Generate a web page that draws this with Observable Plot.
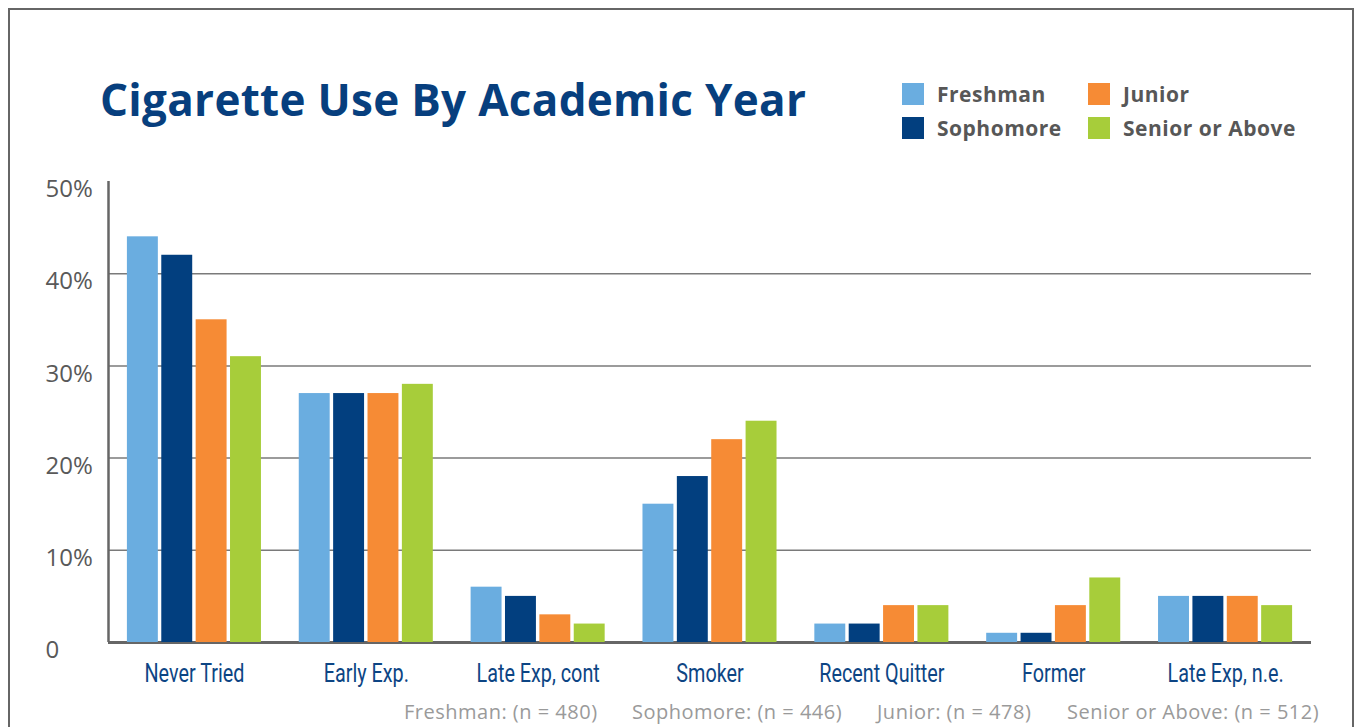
<!DOCTYPE html>
<html>
<head>
<meta charset="utf-8">
<script src="https://cdn.jsdelivr.net/npm/d3@7"></script>
<script src="https://cdn.jsdelivr.net/npm/@observablehq/plot@0.6"></script>
<style>
  html, body { margin: 0; padding: 0; background: #fff; }
  #page { position: relative; width: 1354px; height: 727px; overflow: hidden; background: #fff; }
  #frame { position: absolute; left: 8px; top: 8px; width: 1346px; height: 800px; border: 2.5px solid #666; border-bottom: none; box-sizing: border-box; }
  .layer { position: absolute; left: 0; top: 0; }
  #title { position: absolute; left: 100px; top: 77px; font-family: "Open Sans", sans-serif; font-weight: 700; font-size: 44px; letter-spacing: 0.3px; line-height: 1; color: #073f7e; white-space: nowrap; }
  .lg { position: absolute; display: flex; align-items: center; font-family: "Open Sans", sans-serif; font-weight: 700; font-size: 21px; letter-spacing: 0.5px; color: #575757; white-space: nowrap; line-height: 1; }
  .sw { width: 22px; height: 22px; margin-right: 13px; flex: none; }
  .fn { position: absolute; top: 702px; font-family: "Open Sans", sans-serif; font-weight: 400; font-size: 20px; letter-spacing: 0.5px; color: #9a9a9a; white-space: nowrap; line-height: 1; }
</style>
</head>
<body>
<div id="page">
  <div id="frame"></div>
  <div id="bg" class="layer"></div>
  <div id="fg" class="layer"></div>
  <div id="title"></div>
  <div id="legend"></div>
  <div id="foot"></div>
</div>
<script>
// ---- data ----
const titleText = "Cigarette Use By Academic Year";
const categories = ["Never Tried", "Early Exp.", "Late Exp, cont", "Smoker", "Recent Quitter", "Former", "Late Exp, n.e."];
const years = ["Freshman", "Sophomore", "Junior", "Senior or Above"];
const freshman  = [44, 27, 6, 15, 2, 1, 5];
const sophomore = [42, 27, 5, 18, 2, 1, 5];
const junior    = [35, 27, 3, 22, 4, 4, 5];
const senior    = [31, 28, 2, 24, 4, 7, 4];
const yTicks = [0, 10, 20, 30, 40, 50];
const yTickLabels = ["0", "10%", "20%", "30%", "40%", "50%"];
const gridTicks = [10, 20, 30, 40];
const sampleNotes = ["Freshman: (n = 480)", "Sophomore: (n = 446)", "Junior: (n = 478)", "Senior or Above: (n = 512)"];
const colors = ["#6aade0", "#023f7f", "#f68b35", "#a7cd3a"];

// ---- build rows ----
const series = [freshman, sophomore, junior, senior];
const rows = [];
categories.forEach((c, i) => years.forEach((yr, j) => rows.push({category: c, year: yr, value: series[j][i]})));

const W = 1354, H = 700;
const M = {marginLeft: 108, marginRight: 43, marginTop: 181, marginBottom: 58};

// background layer: grid, baseline, y axis
const bg = Plot.plot({
  width: W, height: H, ...M,
  style: {background: "transparent", overflow: "visible"},
  x: {domain: [0, 1], axis: null},
  y: {domain: [0, 50], axis: null},
  marks: [
    Plot.ruleY(gridTicks, {stroke: "#7a7a7a", strokeWidth: 1.5}),
    Plot.ruleY([0], {stroke: "#666", strokeWidth: 3}),
    Plot.ruleX([0], {y1: 0, y2: 50, stroke: "#666", strokeWidth: 2.5}),
    Plot.axisY(yTicks, {
      tickSize: 0, tickPadding: 0, textAnchor: "start", dx: -63, dy: 8,
      tickFormat: (d) => yTickLabels[yTicks.indexOf(d)],
      fontSize: 24, fontFamily: "Open Sans, sans-serif", fill: "#595959", label: null
    })
  ]
});
document.getElementById("bg").append(bg);

// foreground: bars + category axis
const fg = Plot.plot({
  width: W, height: H, ...M,
  style: {background: "transparent", overflow: "visible"},
  fx: {domain: categories, paddingInner: 0.22, paddingOuter: 0.11, round: false, axis: null, label: null},
  x: {domain: years, paddingInner: 0.1, paddingOuter: 0, round: false, axis: null},
  y: {domain: [0, 50], axis: null},
  color: {domain: years, range: colors},
  marks: [
    Plot.barY(rows, {fx: "category", x: "year", y: "value", fill: "year"}),
    Plot.axisFx({
      anchor: "bottom", tickSize: 0, tickPadding: 21, label: null,
      fontSize: 26, fontFamily: "Roboto, sans-serif", fontWeight: 400,
      fill: "#0d4584", ariaLabel: "category-axis"
    })
  ]
});
document.getElementById("fg").append(fg);

// condense the category labels horizontally (reference uses a condensed face)
let texts = Array.from(fg.querySelectorAll('[aria-label="category-axis"] text'));
if (!texts.length) texts = Array.from(fg.querySelectorAll("text"));
if (texts.length) {
  const first = texts.find(t => t.textContent === categories[0]) || texts[0];
  const k = Math.min(1, 100 / first.getComputedTextLength());
  texts.forEach(t => {
    const tr = t.getAttribute("transform") || "";
    t.setAttribute("transform", tr + ` scale(${k},1)`);
  });
}

// title
document.getElementById("title").textContent = titleText;

// legend (2 x 2)
const legend = document.getElementById("legend");
const legendPos = [[902, 83], [902, 117], [1088, 83], [1088, 117]];
years.forEach((yr, i) => {
  const d = document.createElement("div");
  d.className = "lg";
  d.style.left = legendPos[i][0] + "px";
  d.style.top = legendPos[i][1] + "px";
  d.style.height = "22px";
  const s = document.createElement("div");
  s.className = "sw";
  s.style.background = colors[i];
  d.append(s);
  d.append(document.createTextNode(yr));
  legend.append(d);
});

// footnote
const foot = document.getElementById("foot");
const footX = [404, 632, 877, 1067];
sampleNotes.forEach((t, i) => {
  const s = document.createElement("div");
  s.className = "fn";
  s.style.left = footX[i] + "px";
  s.textContent = t;
  foot.append(s);
});
</script>
</body>
</html>
